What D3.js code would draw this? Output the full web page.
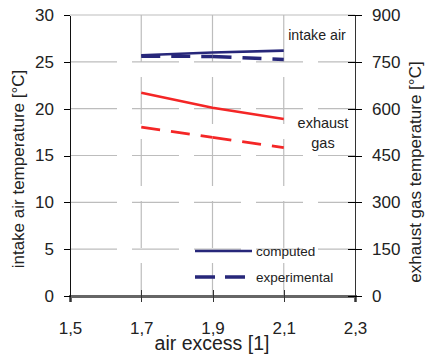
<!DOCTYPE html>
<meta charset="utf-8">
<style>
    body { margin: 0; background: #fff; }
    svg text { font-family: "Liberation Sans", Arial, sans-serif; fill: #222; }
    .grid line { stroke: #bdbdbd; stroke-width: 1.2px; }
    .axis path, .axis line { shape-rendering: crispEdges; }
</style>
<body>
<script src="https://cdn.jsdelivr.net/npm/d3@7"></script>
<script>
    // values
    var airExcess = [1.7, 1.9, 2.1];
    var intakeComputed = [25.7, 26.0, 26.2];
    var intakeExperimental = [25.6, 25.57, 25.25];
    var exhaustComputed = [651, 603, 567];
    var exhaustExperimental = [541, 508, 475];

    var xTicks = [1.5, 1.7, 1.9, 2.1, 2.3];
    var leftTicks = [0, 5, 10, 15, 20, 25, 30];
    var rightTicks = [0, 150, 300, 450, 600, 750, 900];
    var legendLabels = ["computed", "experimental"];

    var width = 427, height = 358;
    var margin = {top: 15, right: 72, bottom: 62, left: 70};

    var svg = d3.select("body").append("svg")
        .attr("width", width)
        .attr("height", height);

    var x = d3.scaleLinear().domain([1.5, 2.3]).range([margin.left, width - margin.right]);
    var yL = d3.scaleLinear().domain([0, 30]).range([height - margin.bottom, margin.top]);
    var yR = d3.scaleLinear().domain([0, 900]).range([height - margin.bottom, margin.top]);

    var navy = "#27277a", red = "#f42626";
    var comma = function(d) { return d3.format(".1f")(d).replace(".", ","); };

    // grid, long-dash like the original
    var grid = svg.append("g").attr("class", "grid");
    grid.selectAll(".h").data(leftTicks.filter(function(d) { return d > 0; }))
        .enter().append("line")
        .attr("x1", x(1.5)).attr("x2", x(2.3))
        .attr("y1", function(d) { return yL(d); })
        .attr("y2", function(d) { return yL(d); })
        .attr("stroke-dasharray", function(d) { return d == 30 ? null : "47,15"; });
    grid.selectAll(".v").data(xTicks.slice(1, -1))
        .enter().append("line")
        .attr("x1", function(d) { return x(d); })
        .attr("x2", function(d) { return x(d); })
        .attr("y1", yL(30)).attr("y2", yL(0))
        .attr("stroke-dasharray", "47,15");

    // series; dash pattern restarts at each point (as in the source)
    function series(vals, y, color, w, dashed) {
        var pts = airExcess.map(function(a, i) { return [x(a), y(vals[i])]; });
        var line = d3.line();
        if (!dashed) {
            svg.append("path").attr("d", line(pts))
                .attr("fill", "none").attr("stroke", color).attr("stroke-width", w);
            return;
        }
        for (var i = 0; i < pts.length - 1; i++) {
            svg.append("path").attr("d", line([pts[i], pts[i + 1]]))
                .attr("fill", "none").attr("stroke", color).attr("stroke-width", w)
                .attr("stroke-dasharray", "19,11");
        }
    }
    series(exhaustComputed, yR, red, 2.6, false);
    series(exhaustExperimental, yR, red, 2.8, true);
    series(intakeExperimental, yL, navy, 3.4, true);
    series(intakeComputed, yL, navy, 2.6, false);

    // axes
    var gx = svg.append("g").attr("class", "axis")
        .attr("transform", "translate(0," + yL(0) + ")")
        .call(d3.axisBottom(x).tickValues(xTicks).tickFormat(comma).tickSize(6).tickPadding(20));
    gx.selectAll(".tick line").attr("y1", -6).attr("y2", 6).attr("stroke", "#333");
    gx.select(".domain").attr("stroke", "#666").attr("stroke-width", 2.2);

    var gl = svg.append("g").attr("class", "axis")
        .attr("transform", "translate(" + x(1.5) + ",0)")
        .call(d3.axisLeft(yL).tickValues(leftTicks).tickSize(6).tickPadding(10).tickSizeOuter(0));
    gl.select(".domain").attr("stroke", "#111").attr("stroke-width", 1.6);

    var gr = svg.append("g").attr("class", "axis")
        .attr("transform", "translate(" + x(2.3) + ",0)")
        .call(d3.axisRight(yR).tickValues(rightTicks).tickSize(7).tickPadding(10).tickSizeOuter(0));
    gr.selectAll(".tick line").attr("x1", -7);
    gr.select(".domain").attr("stroke", "#333").attr("stroke-width", 1.6);

    svg.selectAll(".axis text").style("font-size", "17px").attr("fill", "#222");

    // titles
    svg.append("text")
        .attr("x", (x(1.5) + x(2.3)) / 2 - 0.5).attr("y", 350)
        .attr("text-anchor", "middle").style("font-size", "19.5px")
        .text("air excess [1]");
    svg.append("text")
        .attr("transform", "translate(24,169) rotate(-90)")
        .attr("text-anchor", "middle").style("font-size", "17px")
        .text("intake air temperature [°C]");
    svg.append("text")
        .attr("transform", "translate(421,172) rotate(-90)")
        .attr("text-anchor", "middle").style("font-size", "17px")
        .text("exhaust gas temperature [°C]");

    // annotations
    svg.append("text").attr("x", 317).attr("y", 40)
        .attr("text-anchor", "middle").style("font-size", "14.2px").text("intake air");
    svg.append("text").attr("x", 323).attr("y", 128)
        .attr("text-anchor", "middle").style("font-size", "14.5px").text("exhaust");
    svg.append("text").attr("x", 323).attr("y", 148)
        .attr("text-anchor", "middle").style("font-size", "14.5px").text("gas");

    // legend
    var legend = svg.append("g").selectAll("g").data(legendLabels)
        .enter().append("g")
        .attr("transform", function(d, i) { return "translate(195," + (251 + i * 26) + ")"; });
    legend.append("line")
        .attr("x1", 0).attr("x2", function(d, i) { return i ? 50 : 57; })
        .attr("stroke", navy)
        .attr("stroke-width", function(d, i) { return i ? 3.4 : 2.6; })
        .attr("stroke-dasharray", function(d, i) { return i ? "20,10" : null; });
    legend.append("text")
        .attr("x", 61).attr("dy", "0.35em")
        .style("font-size", "13.5px")
        .text(function(d) { return d; });
</script>
</body>
